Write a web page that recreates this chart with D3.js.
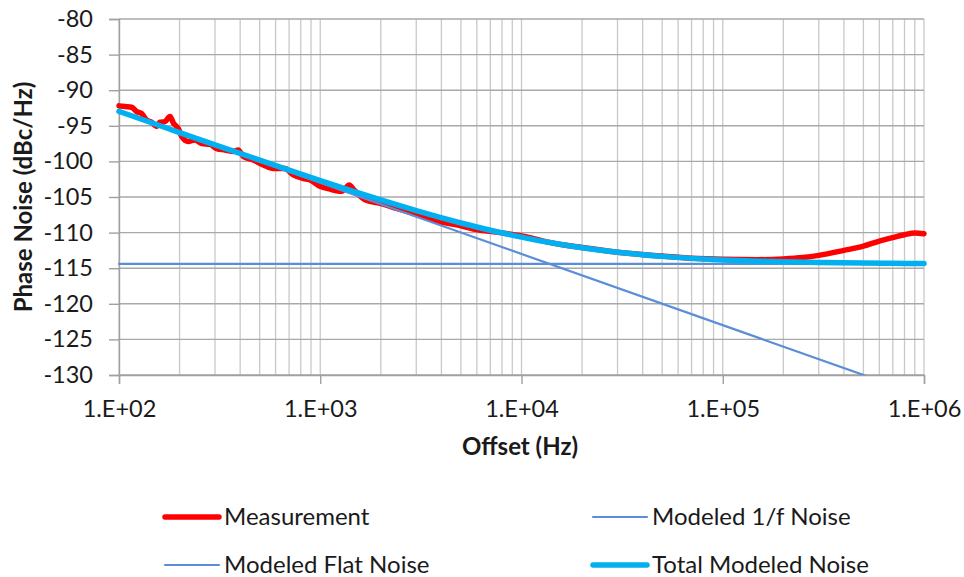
<!DOCTYPE html>
<html>
<head>
<meta charset="utf-8">
<script src="https://cdn.jsdelivr.net/npm/d3@7"></script>
<style>
  html, body { margin: 0; padding: 0; background: #fff; }
  svg { display: block; }
</style>
</head>
<body>
<svg id="chart" width="964" height="577"></svg>
<script>
// ---- data ----
const measFreq = [100, 107, 115.6, 122.4, 129.7, 137.3, 145.4, 153.9, 159.8, 169.2, 179.2, 186.2, 197.1, 204.9, 221, 238.6, 257.6, 283.3, 305.9, 336.3, 369.8, 391.5, 414.7, 464.8, 521.2, 584.4, 667.9, 734.6, 823.7, 889.4, 997, 1118, 1278, 1394, 1460, 1669, 1981, 2399, 2900, 3443, 3936, 4764, 5761, 7822, 10612, 13340, 20000, 30000, 50000, 70000, 100000, 150000, 200000, 250000, 300000, 400000, 500000, 600000, 700000, 800000, 900000, 1000000];
const measValues = [-92.2, -92.3, -92.4, -93.0, -93.3, -94.2, -94.5, -95.1, -94.5, -94.4, -93.7, -94.6, -95.4, -96.5, -97.2, -97.0, -97.5, -97.6, -98.2, -98.4, -98.6, -98.4, -99.3, -99.8, -100.5, -101.0, -101.0, -101.9, -102.4, -102.6, -103.5, -103.9, -104.2, -103.3, -103.9, -105.4, -105.9, -106.6, -107.3, -108.0, -108.5, -108.9, -109.5, -110.0, -110.6, -111.3, -112.1, -112.75, -113.3, -113.6, -113.75, -113.8, -113.7, -113.5, -113.2, -112.5, -111.9, -111.2, -110.7, -110.3, -110.05, -110.15];

const oneOverFFreq = [100, 1000000];
const oneOverFValues = [-93.0, -133.0];

const flatFreq = [100, 1000000];
const flatValues = [-114.4, -114.4];

const totalFreq = [100, 150, 200, 300, 500, 700, 1000, 1500, 2000, 3000, 5000, 7000, 10000, 15000, 20000, 30000, 50000, 70000, 100000, 150000, 200000, 300000, 500000, 700000, 1000000];
const totalValues = [-92.97, -94.71, -95.95, -97.68, -99.83, -101.23, -102.69, -104.30, -105.42, -106.92, -108.65, -109.67, -110.63, -111.57, -112.12, -112.76, -113.34, -113.62, -113.84, -114.02, -114.11, -114.20, -114.28, -114.32, -114.34];

const xTickValues = [1e2, 1e3, 1e4, 1e5, 1e6];
const xTickLabels = ["1.E+02", "1.E+03", "1.E+04", "1.E+05", "1.E+06"];
const yTickValues = [-130, -125, -120, -115, -110, -105, -100, -95, -90, -85, -80];

const seriesNames = ["Measurement", "Modeled 1/f Noise", "Modeled Flat Noise", "Total Modeled Noise"];
const seriesColors = ["#ff0000", "#5b8ed8", "#5b8ed8", "#00b0f0"];
const seriesWidths = [5.5, 2.2, 2.2, 5.5];

// ---- layout ----
const svg = d3.select("#chart");
const L = 119, R = 924, T = 19, B = 375;
const x = d3.scaleLog().domain([1e2, 1e6]).range([L, R]);
const y = d3.scaleLinear().domain([-130, -80]).range([B, T]);
const font = "Lato, 'Open Sans', sans-serif";

// gridlines
const minorTicks = x.ticks(); // 1..9 x decade
svg.append("g").selectAll("line").data(minorTicks).join("line")
  .attr("x1", d => x(d)).attr("x2", d => x(d))
  .attr("y1", T).attr("y2", B)
  .attr("stroke", "#c9c9c9").attr("stroke-width", 1.3);
svg.append("g").selectAll("line").data(yTickValues).join("line")
  .attr("x1", L).attr("x2", R)
  .attr("y1", d => y(d)).attr("y2", d => y(d))
  .attr("stroke", "#a9a9a9").attr("stroke-width", 1.4);

// axes
const yAxis = svg.append("g").attr("transform", `translate(${L},0)`)
  .call(d3.axisLeft(y).tickValues(yTickValues).tickSize(10).tickPadding(16).tickFormat(d => String(d)));
yAxis.select(".domain").attr("stroke", "#a0a0a0").attr("stroke-width", 1.4);
yAxis.selectAll(".tick line").attr("stroke", "#a0a0a0").attr("stroke-width", 1.4);
yAxis.selectAll(".tick text").attr("font-family", font).attr("font-size", 23.5).attr("fill", "#1a1a1a");

const xAxis = svg.append("g").attr("transform", `translate(0,${B})`)
  .call(d3.axisBottom(x).tickValues(xTickValues).tickSize(9).tickPadding(16)
    .tickFormat((d, i) => xTickLabels[i]));
xAxis.select(".domain").attr("stroke", "#a0a0a0").attr("stroke-width", 1.4);
xAxis.selectAll(".tick line").attr("stroke", "#a0a0a0").attr("stroke-width", 1.4);
xAxis.selectAll(".tick text").attr("font-family", font).attr("font-size", 23.5).attr("fill", "#1a1a1a")
  .attr("y", 42).attr("dy", 0);

// axis titles
svg.append("text").attr("x", 520).attr("y", 455).attr("text-anchor", "middle")
  .attr("font-family", font).attr("font-weight", "bold").attr("font-size", 24).attr("fill", "#1a1a1a")
  .text("Offset (Hz)");
svg.append("text").attr("transform", "translate(32,197) rotate(-90)").attr("text-anchor", "middle")
  .attr("font-family", font).attr("font-weight", "bold").attr("font-size", 24).attr("fill", "#1a1a1a")
  .text("Phase Noise (dBc/Hz)");

// clip
svg.append("clipPath").attr("id", "plotclip").append("rect")
  .attr("x", L - 4).attr("y", T - 4).attr("width", R - L + 8).attr("height", B - T + 4);

const line = d3.line().x(d => x(d[0])).y(d => y(d[1])).curve(d3.curveMonotoneX);
const series = [
  d3.zip(measFreq, measValues),
  d3.zip(oneOverFFreq, oneOverFValues),
  d3.zip(flatFreq, flatValues),
  d3.zip(totalFreq, totalValues)
];
const plot = svg.append("g").attr("clip-path", "url(#plotclip)");
series.forEach((s, i) => {
  plot.append("path").datum(s).attr("d", line)
    .attr("fill", "none").attr("stroke", seriesColors[i]).attr("stroke-width", seriesWidths[i])
    .attr("stroke-linejoin", "round").attr("stroke-linecap", "round");
});

// legend
const legendPos = [[165, 517], [593, 517], [165, 565], [593, 565]];
seriesNames.forEach((name, i) => {
  const [lx, ly] = legendPos[i];
  svg.append("line").attr("x1", lx).attr("x2", lx + 54).attr("y1", ly).attr("y2", ly)
    .attr("stroke", seriesColors[i]).attr("stroke-width", seriesWidths[i]).attr("stroke-linecap", "round");
  svg.append("text").attr("x", lx + 59).attr("y", ly + 8)
    .attr("font-family", font).attr("font-size", 24).attr("fill", "#1a1a1a").text(name);
});
</script>
</body>
</html>
